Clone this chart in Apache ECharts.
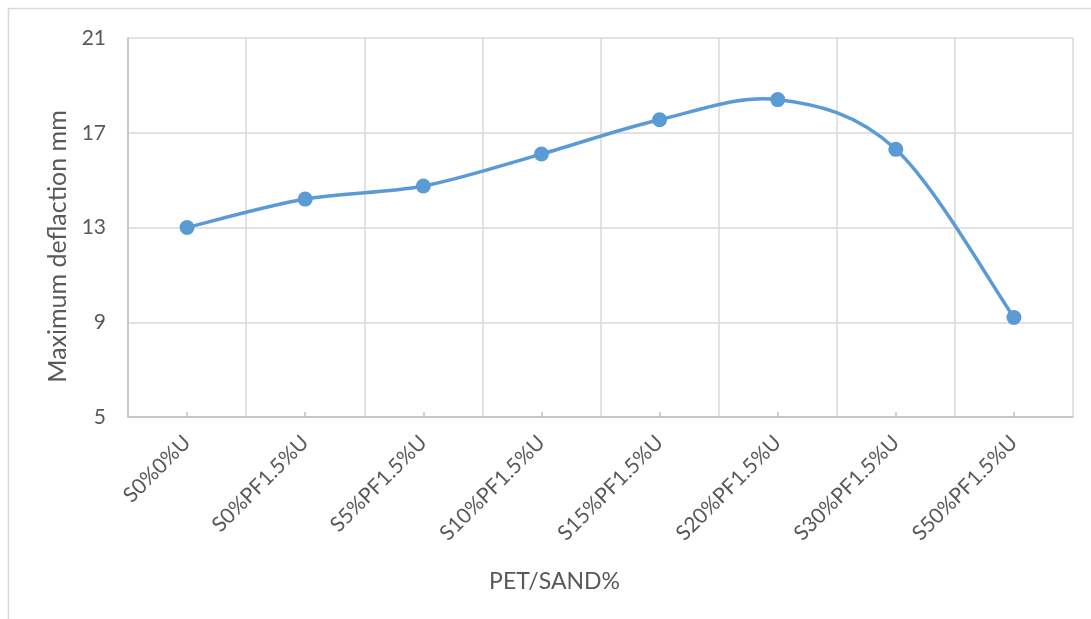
<!DOCTYPE html>
<html>
<head>
<meta charset="utf-8">
<title>Maximum deflaction</title>
<script src="https://cdn.jsdelivr.net/npm/echarts@6/dist/echarts.min.js"></script>
<style>
  html, body { margin: 0; padding: 0; background: #fff; }
  #chart { width: 1091px; height: 619px; }
</style>
</head>
<body>
<div id="chart"></div>
<script>
// Mix designs along the x axis
const categories = ['S0%0%U', 'S0%PF1.5%U', 'S5%PF1.5%U', 'S10%PF1.5%U',
                    'S15%PF1.5%U', 'S20%PF1.5%U', 'S30%PF1.5%U', 'S50%PF1.5%U'];
// Maximum deflection for each mix, mm
const deflection = [13.0, 14.2, 14.75, 16.1, 17.55, 18.4, 16.3, 9.2];
// Value axis range and step
const yMin = 5, yMax = 21, yStep = 4;

const textGray = '#595959';
const gridGray = '#d9d9d9';
const lineBlue = '#5b9bd5';
const font = 'Lato, "Open Sans", sans-serif';

// Smoothed curve: cubic Bezier segments whose tangents follow the
// neighbouring points (Catmull-Rom style, 1/6 of the neighbour span).
function renderSegment(params, api) {
  const i = params.dataIndex;
  if (i >= deflection.length - 1) return null;
  const pt = k => {
    const j = Math.max(0, Math.min(deflection.length - 1, k));
    return api.coord([j, deflection[j]]);
  };
  const p0 = pt(i - 1), p1 = pt(i), p2 = pt(i + 1), p3 = pt(i + 2);
  return {
    type: 'bezierCurve',
    shape: {
      x1: p1[0], y1: p1[1],
      cpx1: p1[0] + (p2[0] - p0[0]) / 6, cpy1: p1[1] + (p2[1] - p0[1]) / 6,
      cpx2: p2[0] - (p3[0] - p1[0]) / 6, cpy2: p2[1] - (p3[1] - p1[1]) / 6,
      x2: p2[0], y2: p2[1]
    },
    style: { stroke: lineBlue, lineWidth: 3.5, fill: 'none', lineCap: 'round' },
    silent: true
  };
}

const chart = echarts.init(document.getElementById('chart'), null, { renderer: 'canvas' });
chart.setOption({
  backgroundColor: '#ffffff',
  animation: false,
  graphic: [{
    type: 'rect',
    shape: { x: 8.5, y: 8.5, width: 1100, height: 620 },
    style: { fill: 'none', stroke: gridGray, lineWidth: 1.5 },
    silent: true
  }],
  grid: { left: 128, right: 18, top: 38, bottom: 202 },
  xAxis: {
    type: 'category',
    data: categories,
    boundaryGap: true,
    name: 'PET/SAND%',
    nameLocation: 'middle',
    nameGap: 153,
    nameTextStyle: { color: textGray, fontSize: 23, fontFamily: font, padding: [0, 92, 0, 0] },
    axisLine: { show: true, lineStyle: { color: '#bfbfbf', width: 1.5 } },
    axisTick: { show: true, alignWithLabel: true, inside: true, length: 5,
                lineStyle: { color: '#bfbfbf', width: 1.5 } },
    axisLabel: { rotate: 45, margin: 22, color: textGray, fontSize: 21, fontFamily: font, interval: 0 },
    splitLine: { show: true, interval: 0, lineStyle: { color: gridGray, width: 1.5 } }
  },
  yAxis: {
    type: 'value',
    min: yMin,
    max: yMax,
    interval: yStep,
    name: 'Maximum deflaction mm',
    nameLocation: 'middle',
    nameGap: 42,
    nameTextStyle: { color: textGray, fontSize: 25, fontFamily: font, padding: [0, 38, 0, 0] },
    axisLine: { show: true, lineStyle: { color: '#bfbfbf', width: 1.5 } },
    axisTick: { show: false },
    axisLabel: { color: textGray, fontSize: 21, fontFamily: font, margin: 22 },
    splitLine: { show: true, lineStyle: { color: gridGray, width: 1.5 } }
  },
  series: [{
    type: 'custom',
    data: deflection,
    renderItem: renderSegment,
    clip: false,
    silent: true,
    z: 2
  }, {
    type: 'line',
    data: deflection,
    symbol: 'circle',
    symbolSize: 15,
    lineStyle: { width: 0, opacity: 0 },
    itemStyle: { color: lineBlue },
    z: 3
  }]
});
</script>
</body>
</html>
